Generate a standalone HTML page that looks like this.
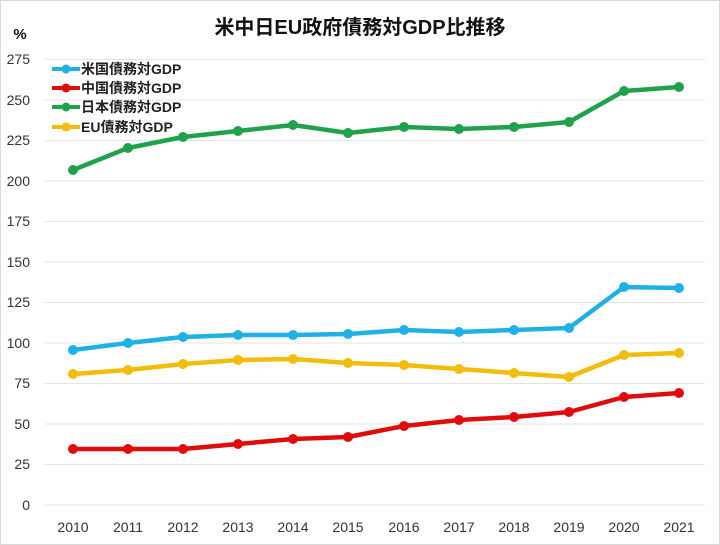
<!DOCTYPE html>
<html><head><meta charset="utf-8"><style>
body{margin:0;background:#fff}
svg{display:block;font-family:"Liberation Sans","Noto Sans CJK JP",sans-serif}
</style></head><body>
<svg width="720" height="545" viewBox="0 0 720 545">
<rect x="0.5" y="0.5" width="719" height="544" fill="#fff" stroke="#d9d9d9"/>
<text x="360" y="34" font-size="20" font-weight="bold" text-anchor="middle" fill="#111">米中日EU政府債務対GDP比推移</text>
<text x="20" y="39" font-size="15" font-weight="bold" text-anchor="middle" fill="#111">%</text>
<g stroke="#e3e3e3" stroke-width="1">
<line x1="45" x2="705" y1="59.5" y2="59.5"/><line x1="45" x2="705" y1="100" y2="100"/><line x1="45" x2="705" y1="140.5" y2="140.5"/><line x1="45" x2="705" y1="181" y2="181"/><line x1="45" x2="705" y1="221.5" y2="221.5"/><line x1="45" x2="705" y1="262" y2="262"/><line x1="45" x2="705" y1="302.5" y2="302.5"/><line x1="45" x2="705" y1="343" y2="343"/><line x1="45" x2="705" y1="383.5" y2="383.5"/><line x1="45" x2="705" y1="424" y2="424"/><line x1="45" x2="705" y1="464.5" y2="464.5"/><line x1="45" x2="705" y1="505" y2="505"/>
</g>
<g font-size="14" fill="#333" text-anchor="end">
<text x="30" y="64">275</text><text x="30" y="105">250</text><text x="30" y="145">225</text><text x="30" y="186">200</text><text x="30" y="226">175</text><text x="30" y="267">150</text><text x="30" y="307">125</text><text x="30" y="348">100</text><text x="30" y="388">75</text><text x="30" y="429">50</text><text x="30" y="469">25</text><text x="30" y="510">0</text>
</g>
<g font-size="14" fill="#333" text-anchor="middle">
<text x="73" y="532">2010</text><text x="128" y="532">2011</text><text x="183" y="532">2012</text><text x="238" y="532">2013</text><text x="293" y="532">2014</text><text x="348" y="532">2015</text><text x="404" y="532">2016</text><text x="459" y="532">2017</text><text x="514" y="532">2018</text><text x="569" y="532">2019</text><text x="624" y="532">2020</text><text x="679" y="532">2021</text>
</g>
<g fill="none" stroke-width="4.5" stroke-linejoin="round">
<polyline stroke="#1fb0e6" points="73,350 128,343 183,337 238,335 293,335 348,334 404,330 459,332 514,330 569,328 624,287 679,288"/>
<polyline stroke="#e00c0c" points="73,449 128,449 183,449 238,444 293,439 348,437 404,426 459,420 514,417 569,412 624,397 679,393"/>
<polyline stroke="#1fa24b" points="73,170 128,148 183,137 238,131 293,125 348,133 404,127 459,129 514,127 569,122 624,91 679,87"/>
<polyline stroke="#f2bc0a" points="73,374 128,370 183,364 238,360 293,359 348,363 404,365 459,369 514,373 569,377 624,355 679,353"/>
</g>
<g fill="#1fb0e6"><circle cx="73" cy="350" r="5"/><circle cx="128" cy="343" r="5"/><circle cx="183" cy="337" r="5"/><circle cx="238" cy="335" r="5"/><circle cx="293" cy="335" r="5"/><circle cx="348" cy="334" r="5"/><circle cx="404" cy="330" r="5"/><circle cx="459" cy="332" r="5"/><circle cx="514" cy="330" r="5"/><circle cx="569" cy="328" r="5"/><circle cx="624" cy="287" r="5"/><circle cx="679" cy="288" r="5"/></g>
<g fill="#e00c0c"><circle cx="73" cy="449" r="5"/><circle cx="128" cy="449" r="5"/><circle cx="183" cy="449" r="5"/><circle cx="238" cy="444" r="5"/><circle cx="293" cy="439" r="5"/><circle cx="348" cy="437" r="5"/><circle cx="404" cy="426" r="5"/><circle cx="459" cy="420" r="5"/><circle cx="514" cy="417" r="5"/><circle cx="569" cy="412" r="5"/><circle cx="624" cy="397" r="5"/><circle cx="679" cy="393" r="5"/></g>
<g fill="#1fa24b"><circle cx="73" cy="170" r="5"/><circle cx="128" cy="148" r="5"/><circle cx="183" cy="137" r="5"/><circle cx="238" cy="131" r="5"/><circle cx="293" cy="125" r="5"/><circle cx="348" cy="133" r="5"/><circle cx="404" cy="127" r="5"/><circle cx="459" cy="129" r="5"/><circle cx="514" cy="127" r="5"/><circle cx="569" cy="122" r="5"/><circle cx="624" cy="91" r="5"/><circle cx="679" cy="87" r="5"/></g>
<g fill="#f2bc0a"><circle cx="73" cy="374" r="5"/><circle cx="128" cy="370" r="5"/><circle cx="183" cy="364" r="5"/><circle cx="238" cy="360" r="5"/><circle cx="293" cy="359" r="5"/><circle cx="348" cy="363" r="5"/><circle cx="404" cy="365" r="5"/><circle cx="459" cy="369" r="5"/><circle cx="514" cy="373" r="5"/><circle cx="569" cy="377" r="5"/><circle cx="624" cy="355" r="5"/><circle cx="679" cy="353" r="5"/></g>
<g stroke-width="4">
<line x1="52" x2="80" y1="69" y2="69" stroke="#1fb0e6"/><circle cx="66" cy="69" r="4.5" fill="#1fb0e6"/>
<line x1="52" x2="80" y1="88" y2="88" stroke="#e00c0c"/><circle cx="66" cy="88" r="4.5" fill="#e00c0c"/>
<line x1="52" x2="80" y1="107" y2="107" stroke="#1fa24b"/><circle cx="66" cy="107" r="4.5" fill="#1fa24b"/>
<line x1="52" x2="80" y1="127" y2="127" stroke="#f2bc0a"/><circle cx="66" cy="127" r="4.5" fill="#f2bc0a"/>
</g>
<g font-size="14" font-weight="bold" fill="#222">
<text x="81" y="74">米国債務対GDP</text><text x="81" y="93">中国債務対GDP</text><text x="81" y="112">日本債務対GDP</text><text x="81" y="132">EU債務対GDP</text>
</g>
</svg>
</body></html>
